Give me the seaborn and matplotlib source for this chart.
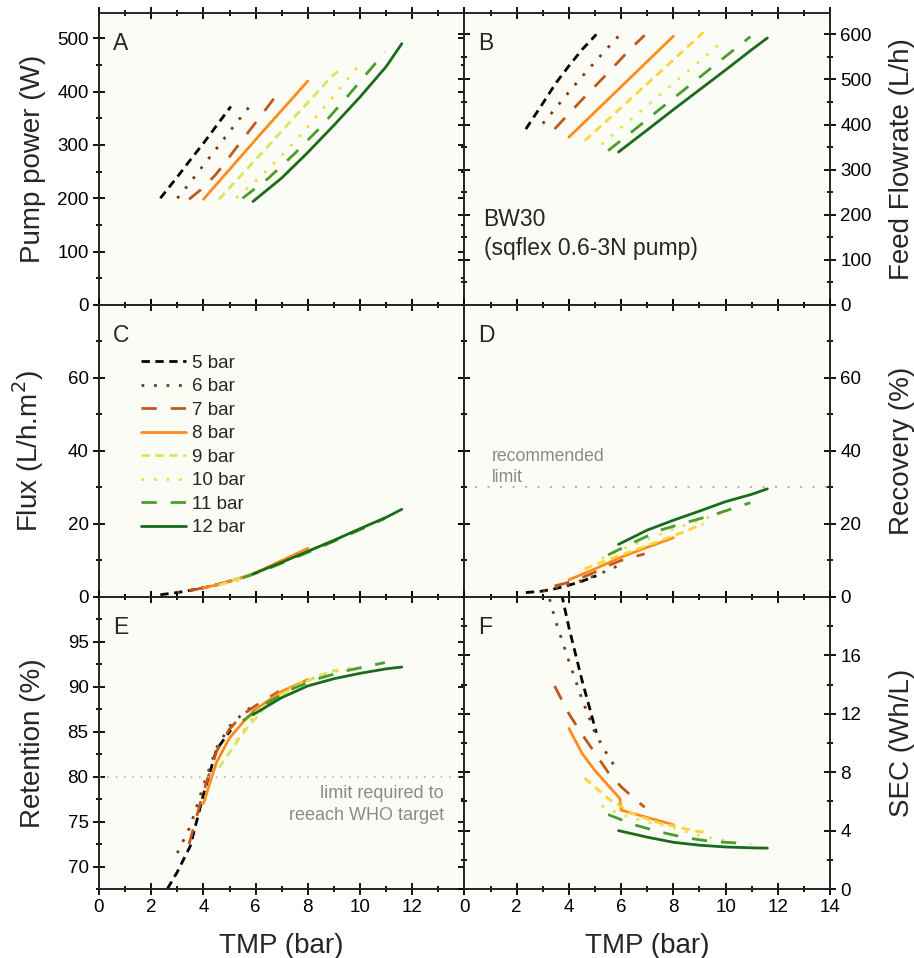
import numpy as np
import pandas as pd
import matplotlib
matplotlib.use("Agg")
import matplotlib.pyplot as plt
from matplotlib.ticker import MultipleLocator
import seaborn as sns

# feed pressure series
series = ['5 bar', '6 bar', '7 bar', '8 bar', '9 bar', '10 bar', '11 bar', '12 bar']

# TMP (bar) points for each series
tmp = {
    '5 bar': [2.35, 3.0, 3.5, 4.0, 4.5, 5.05],
    '6 bar': [3.0, 3.5, 4.0, 4.5, 5.0, 5.5, 5.9],
    '7 bar': [3.45, 4.0, 4.5, 5.0, 5.5, 6.0, 6.5, 6.9],
    '8 bar': [4.0, 4.5, 5.0, 5.5, 5.95, 6.0, 7.0, 8.0],
    '9 bar': [4.6, 5.5, 6.5, 7.5, 8.5, 8.9, 9.15],
    '10 bar': [5.25, 6.0, 7.0, 8.0, 9.0, 10.0],
    '11 bar': [5.5, 6.5, 7.5, 8.5, 9.5, 10.95],
    '12 bar': [5.9, 7.0, 8.0, 9.0, 10.0, 11.0, 11.6],
}

# A - pump power (W)
power = {
    '5 bar': [200, 240, 272, 303, 336, 372],
    '6 bar': [200, 230, 262, 293, 325, 356, 380],
    '7 bar': [198, 220, 246, 278, 310, 342, 374, 400],
    '8 bar': [198, 226, 254, 282, 307, 310, 365, 420],
    '9 bar': [198, 246, 299, 353, 406, 428, 438],
    '10 bar': [201, 232, 280, 334, 392, 452],
    '11 bar': [200, 238, 284, 334, 390, 474],
    '12 bar': [194, 238, 286, 337, 390, 447, 490],
}

# B - feed flowrate (L/h)
flow = {
    '5 bar': [390, 447, 492, 530, 566, 600],
    '6 bar': [402, 437, 472, 506, 539, 571, 596],
    '7 bar': [390, 424, 455, 485, 515, 546, 576, 598],
    '8 bar': [372, 400, 428, 456, 481, 484, 540, 596],
    '9 bar': [364, 411, 464, 517, 570, 591, 605],
    '10 bar': [356, 393, 442, 491, 540, 590],
    '11 bar': [342, 388, 435, 481, 528, 595],
    '12 bar': [339, 388, 433, 477, 521, 566, 592],
}

# C - flux (L/h.m2)
flux = {
    '5 bar': [0.6, 1.2, 1.8, 2.5, 3.3, 4.4],
    '6 bar': [1.2, 1.8, 2.5, 3.3, 4.3, 5.3, 6.2],
    '7 bar': [1.7, 2.5, 3.3, 4.3, 5.3, 6.5, 8.0, 9.2],
    '8 bar': [2.5, 3.3, 4.3, 5.4, 6.5, 6.6, 10.0, 13.3],
    '9 bar': [3.2, 5.3, 8.0, 11.0, 14.0, 15.2, 16.0],
    '10 bar': [4.3, 6.5, 9.5, 12.5, 15.5, 18.7],
    '11 bar': [5.2, 7.8, 10.7, 13.7, 16.8, 21.5],
    '12 bar': [6.3, 9.5, 12.5, 15.5, 18.7, 21.8, 24.0],
}

# D - recovery (%)
recovery = {
    '5 bar': [1.2, 1.6, 2.3, 3.2, 4.3, 5.8],
    '6 bar': [1.7, 2.4, 3.4, 4.5, 5.8, 7.3, 8.6],
    '7 bar': [3.0, 4.0, 5.3, 6.8, 8.6, 10.0, 11.0, 11.8],
    '8 bar': [4.7, 6.2, 7.7, 9.3, 10.8, 10.9, 13.6, 16.2],
    '9 bar': [7.7, 10.2, 12.8, 15.4, 18.1, 19.3, 20.0],
    '10 bar': [10.5, 13.0, 15.8, 18.6, 21.0, 23.3],
    '11 bar': [11.5, 15.0, 18.3, 20.4, 22.4, 25.8],
    '12 bar': [14.4, 18.3, 21.0, 23.5, 26.1, 28.1, 29.6],
}

# E - retention (%)
retention = {
    '5 bar': [66.2, 69.4, 72.3, 78.0, 83.0, 85.2],
    '6 bar': [71.5, 74.5, 79.0, 83.2, 85.6, 87.0, 87.9],
    '7 bar': [72.5, 78.3, 82.8, 85.3, 86.9, 87.9, 88.8, 89.5],
    '8 bar': [77.0, 81.6, 84.3, 86.0, 87.4, 87.5, 89.5, 90.8],
    '9 bar': [81.0, 84.8, 88.2, 90.0, 91.3, 91.7, 91.9],
    '10 bar': [84.0, 87.0, 89.3, 90.8, 91.7, 92.3],
    '11 bar': [86.2, 88.3, 89.9, 91.0, 91.8, 92.7],
    '12 bar': [86.9, 88.8, 90.1, 90.9, 91.5, 92.0, 92.2],
}

# F - specific energy consumption (Wh/L)
sec = {
    '5 bar': [40.0, 29.0, 22.0, 17.9, 14.3, 10.7],
    '6 bar': [21.5, 18.3, 15.6, 13.0, 10.7, 9.1, 8.0],
    '7 bar': [13.9, 12.0, 10.6, 9.3, 8.0, 7.0, 6.2, 5.6],
    '8 bar': [11.0, 9.3, 8.1, 7.1, 6.2, 5.4, 4.9, 4.4],
    '9 bar': [7.6, 6.2, 5.1, 4.5, 4.1, 3.95, 3.9],
    '10 bar': [5.7, 5.1, 4.6, 4.2, 3.65, 3.3],
    '11 bar': [5.1, 4.4, 3.9, 3.5, 3.25, 3.1],
    '12 bar': [4.0, 3.55, 3.2, 3.0, 2.88, 2.82, 2.8],
}

colors = {
    '5 bar': '#000000', '6 bar': '#7a3b10', '7 bar': '#c0581b', '8 bar': '#ff8c1a',
    '9 bar': '#d6e65e', '10 bar': '#fdd43a', '11 bar': '#4a9c2d', '12 bar': '#1a6b1a',
}
# the right-hand panels of the original have 9/10 bar colours swapped
colors_right = dict(colors)
colors_right['9 bar'], colors_right['10 bar'] = colors['10 bar'], colors['9 bar']

dashes = {
    '5 bar': (3, 2), '6 bar': (1, 3.5), '7 bar': (5.5, 5), '8 bar': '',
    '9 bar': (3, 2), '10 bar': (1, 3.5), '11 bar': (5.5, 5), '12 bar': '',
}

rows = []
for s in series:
    for i, x in enumerate(tmp[s]):
        rows.append({'series': s, 'TMP': x, 'power': power[s][i], 'flow': flow[s][i],
                     'flux': flux[s][i], 'recovery': recovery[s][i],
                     'retention': retention[s][i], 'sec': sec[s][i]})
df = pd.DataFrame(rows)

sns.set_style('ticks')
plt.rcParams['font.family'] = ['Liberation Sans', 'DejaVu Sans']
plt.rcParams['axes.linewidth'] = 1.4

fig, axes = plt.subplots(3, 2, figsize=(9.14, 9.58), dpi=100)
fig.subplots_adjust(left=0.1083, right=0.9081, bottom=0.072, top=0.9867, wspace=0, hspace=0)

panels = [
    (axes[0, 0], 'power', 'A', 'Pump power (W)', (0, 548), np.arange(0, 501, 100), 50),
    (axes[0, 1], 'flow', 'B', 'Feed Flowrate (L/h)', (0, 648), np.arange(0, 601, 100), 50),
    (axes[1, 0], 'flux', 'C', 'Flux (L/h.m$^2$)', (0, 80), np.arange(0, 61, 20), 10),
    (axes[1, 1], 'recovery', 'D', 'Recovery (%)', (0, 80), np.arange(0, 61, 20), 10),
    (axes[2, 0], 'retention', 'E', 'Retention (%)', (67.5, 100), np.arange(70, 96, 5), 2.5),
    (axes[2, 1], 'sec', 'F', 'SEC (Wh/L)', (0, 20), np.arange(0, 17, 4), 2),
]

for k, (ax, col, letter, ylab, ylim, yticks, minor) in enumerate(panels):
    right = k % 2 == 1
    ax.set_facecolor('#fcfcf7')
    sns.lineplot(data=df, x='TMP', y=col, hue='series', style='series',
                 hue_order=series, style_order=series,
                 palette=colors_right if right else colors, dashes=dashes,
                 estimator=None, lw=2, ax=ax, legend=(letter == 'C'))
    ax.set_xlim(0, 14)
    ax.set_ylim(*ylim)
    ax.xaxis.set_major_locator(MultipleLocator(2))
    ax.xaxis.set_minor_locator(MultipleLocator(1))
    ax.set_yticks(yticks)
    ax.yaxis.set_minor_locator(MultipleLocator(minor))
    ax.tick_params(which='both', direction='inout', top=True, bottom=True,
                   left=True, right=True, width=1.3, labelsize=13.5, colors='black')
    ax.tick_params(which='major', length=8)
    ax.tick_params(which='minor', length=5)
    ax.tick_params(labelleft=not right, labelright=right)
    if right:
        ax.yaxis.set_label_position('right')
        ax.set_ylabel(ylab, fontsize=20, labelpad=12)
    else:
        ax.set_ylabel(ylab, fontsize=20, labelpad=8)
    if k < 4:
        ax.tick_params(labelbottom=False)
        ax.set_xlabel('')
    else:
        ax.set_xlabel('TMP (bar)', fontsize=20, labelpad=12)
    ax.text(0.038, 0.872, letter, transform=ax.transAxes, fontsize=16.5, va='baseline')

# left bottom panel: last x label is left to the right panel
axes[2, 0].set_xticks([0, 2, 4, 6, 8, 10, 12, 14])
axes[2, 0].set_xticklabels(['0', '2', '4', '6', '8', '10', '12', ''])

# legend in C
handles, labels = axes[1, 0].get_legend_handles_labels()
axes[1, 0].legend(handles, labels, loc='upper left', bbox_to_anchor=(0.095, 0.855),
                  frameon=False, fontsize=13.5, handlelength=2.4, handletextpad=0.3,
                  labelspacing=0.34, borderaxespad=0)

# annotations
axes[0, 1].text(0.052, 0.33, 'BW30\n(sqflex 0.6-3N pump)', transform=axes[0, 1].transAxes,
                fontsize=16.5, va='top', ha='left', linespacing=1.3)
axes[1, 1].axhline(30, xmin=0.03, xmax=1, color='#b5b5b5', ls=(0, (1, 5)), lw=1.5)
axes[1, 1].text(0.074, 0.51, 'recommended\nlimit', transform=axes[1, 1].transAxes,
                fontsize=12.7, color='#8a8a8a', va='top', ha='left', linespacing=1.3)
axes[2, 0].axhline(80, color='#b5b5b5', ls=(0, (1, 4)), lw=1.2)
axes[2, 0].text(0.944, 0.355, 'limit required to\nreeach WHO target', transform=axes[2, 0].transAxes,
                fontsize=13, color='#8a8a8a', va='top', ha='right', multialignment='right',
                linespacing=1.35)

fig.align_ylabels(axes[:, 0])
fig.align_ylabels(axes[:, 1])

plt.savefig('out.png', dpi=100)
plt.close()
